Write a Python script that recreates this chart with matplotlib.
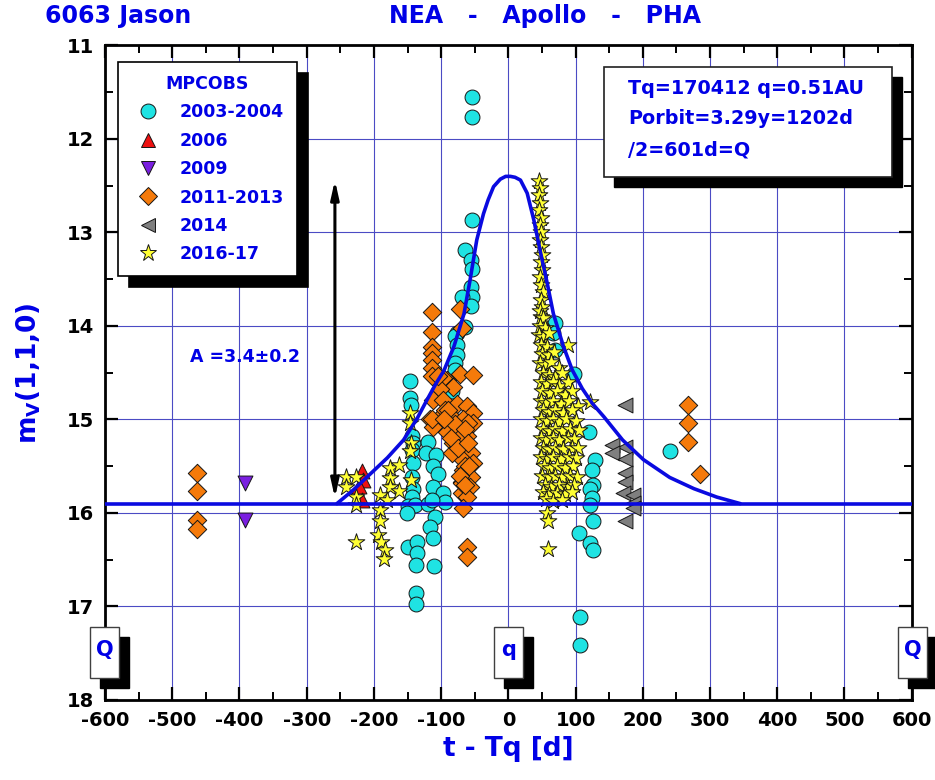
import matplotlib
matplotlib.use('Agg')
import matplotlib.pyplot as plt
from matplotlib.patches import Rectangle
from matplotlib.lines import Line2D
from matplotlib.ticker import MultipleLocator

plt.rcParams['font.family'] = ['DejaVu Sans']
plt.rcParams['font.weight'] = 'bold'
plt.rcParams['axes.unicode_minus'] = False
plt.rcParams['mathtext.fontset'] = 'custom'
plt.rcParams['mathtext.rm'] = 'DejaVu Sans:bold'
plt.rcParams['mathtext.it'] = 'DejaVu Sans:bold'
plt.rcParams['mathtext.bf'] = 'DejaVu Sans:bold'

BLUE = '#0000e6'

# observations: t - Tq [d] and reduced magnitude m_V(1,1,0)
obs_2003_t = [-54, -54, -54, -65, -56, -54, -56, -54, -69, -56, -65, -77, -79, -77, -77, -79, -79, -84,
              -146, -146, -145, -143, -142, -143, -142, -143, -142, -144, -149, -139, -151, -149, -136,
              -136, -138, -137, -137,
              -119, -122, -107, -112, -104, -112, -97, -94, -119, -114, -109, -117, -112, -110,
              69, 67, 69, 98, 120, 129, 124, 126, 121, 124, 121, 126, 105, 121, 126, 106, 106, 240]
obs_2003_m = [11.55, 11.77, 12.87, 13.19, 13.29, 13.39, 13.58, 13.69, 13.69, 13.79, 14.01, 14.08, 14.11,
              14.20, 14.31, 14.40, 14.47, 14.70,
              14.59, 14.77, 14.84, 15.18, 15.25, 15.33, 15.47, 15.61, 15.74, 15.83, 15.93, 15.91, 16.00,
              16.36, 16.31, 16.43, 16.56, 16.86, 16.97,
              15.24, 15.36, 15.38, 15.50, 15.58, 15.72, 15.79, 15.88, 15.90, 15.86, 16.04, 16.15, 16.27, 16.57,
              13.97, 14.08, 14.26, 14.51, 15.13, 15.43, 15.54, 15.70, 15.74, 15.84, 15.91, 16.09, 16.21,
              16.32, 16.40, 17.11, 17.41, 15.34]

obs_2006_t = [-218, -216, -222, -218]
obs_2006_m = [15.55, 15.65, 15.71, 15.86]

obs_2009_t = [-392, -392]
obs_2009_m = [15.68, 16.08]

obs_2011_t = [-463, -463, -463, -463, 267, 267, 267, 285,
              -114, -114, -114, -113, -114, -114, -114, -72, -69, -72, -52, -92, -82, -97, -102,
              -112, -97, -77, -62, -52, -117, -102, -84, -67, -52, -112, -92, -77, -62, -82, -67,
              -55, -72, -52, -67, -55, -69, -57, -69, -62, -67, -62, -62,
              -114, -94, -60, -75, -84, -65, -69, -104, -90, -80, -95, -85, -75, -65, -60, -58, -72, -64]
obs_2011_m = [15.57, 15.77, 16.07, 16.17, 14.84, 15.04, 15.24, 15.58,
              13.85, 14.06, 14.22, 14.29, 14.36, 14.45, 14.54, 13.82, 14.02, 14.51, 14.52, 14.58, 14.65,
              14.56, 14.67, 14.79, 14.79, 14.83, 14.86, 14.93, 15.00, 14.97, 14.97, 15.00, 15.04, 15.08,
              15.13, 15.15, 15.18, 15.25, 15.29, 15.36, 15.40, 15.47, 15.54, 15.61, 15.67, 15.72, 15.79,
              15.83, 15.95, 16.36, 16.47,
              15.00, 14.90, 15.04, 15.18, 15.36, 15.50, 15.68, 14.54, 14.90, 15.05, 15.00, 15.20, 15.30,
              15.10, 15.25, 15.50, 15.60, 15.70]

obs_2014_t = [173, 154, 174, 154, 174, 174, 174, 171, 186, 186, 186, 173]
obs_2014_m = [14.84, 15.27, 15.29, 15.36, 15.42, 15.57, 15.67, 15.79, 15.81, 15.89, 15.95, 16.09]

obs_2016_t = [-241, -227, -241, -226, -226, -227, -176, -163, -176, -176, -163, -191, -181, -191, -191,
              -194, -189, -184, -185, -146, -146, -145, -146, -145,
              46, 47, 46, 47, 46, 48, 47, 48, 47, 49, 50, 48, 50, 47, 49, 51, 48, 50, 47,
              48, 52, 47, 55, 46, 52, 60, 48, 58, 89, 50, 60, 68, 47, 55, 64, 75, 52, 60, 70, 80,
              48, 57, 66, 76, 88, 50, 62, 72, 84, 95,
              48, 56, 66, 78, 90, 121, 104,
              52, 60, 70, 82, 94,
              49, 58, 66, 75, 86, 100,
              51, 62, 70, 80, 92, 105,
              48, 56, 66, 76, 88, 98,
              52, 60, 70, 82, 94, 104,
              49, 58, 67, 78, 90, 100,
              53, 62, 72, 84, 96,
              50, 60, 70, 80, 92, 102,
              54, 64, 76, 88, 98,
              51, 60, 72, 84, 95,
              56, 66, 80,
              57, 59, 59]
obs_2016_m = [15.61, 15.61, 15.72, 15.83, 15.91, 16.31, 15.52, 15.49, 15.63, 15.72, 15.77, 15.81, 15.86,
              15.97, 16.09, 16.24, 16.31, 16.40, 16.49, 14.93, 15.04, 15.25, 15.34, 15.65,
              12.45, 12.52, 12.60, 12.68, 12.76, 12.84, 12.92, 13.00, 13.08, 13.16, 13.24, 13.32, 13.40,
              13.48, 13.56, 13.64, 13.72, 13.80, 13.84,
              13.90, 13.92, 14.00, 14.02, 14.10, 14.12, 14.08, 14.20, 14.22, 14.20, 14.30, 14.31, 14.28,
              14.40, 14.42, 14.38, 14.45, 14.50, 14.52, 14.55, 14.50,
              14.60, 14.62, 14.60, 14.64, 14.60, 14.70, 14.72, 14.70, 14.74, 14.70,
              14.80, 14.82, 14.80, 14.83, 14.80, 14.81, 14.86,
              14.90, 14.92, 14.90, 14.93, 14.90,
              15.00, 15.02, 15.00, 15.03, 15.00, 15.02,
              15.10, 15.12, 15.10, 15.12, 15.10, 15.11,
              15.20, 15.22, 15.20, 15.22, 15.20, 15.21,
              15.30, 15.32, 15.30, 15.32, 15.30, 15.31,
              15.40, 15.42, 15.40, 15.42, 15.40, 15.41,
              15.50, 15.52, 15.50, 15.52, 15.50,
              15.60, 15.62, 15.60, 15.62, 15.60, 15.61,
              15.70, 15.72, 15.70, 15.72, 15.70,
              15.78, 15.80, 15.79, 15.80, 15.78,
              15.85, 15.87, 15.86,
              16.00, 16.09, 16.38]

# secular light curve envelope
curve_t = [-255, -230, -205, -180, -156, -135, -121, -108, -96, -81, -66, -57, -47, -37, -30, -22, -12, -4,
           3, 10, 18, 28, 38, 48, 58, 67, 82, 95, 110, 125, 142, 170, 201, 240, 276, 310, 345]
curve_m = [15.90, 15.75, 15.58, 15.41, 15.22, 14.98, 14.79, 14.62, 14.48, 14.22, 13.87, 13.51, 13.08, 12.80,
           12.65, 12.51, 12.43, 12.40, 12.40, 12.41, 12.44, 12.58, 12.87, 13.22, 13.55, 13.87, 14.22, 14.47,
           14.67, 14.83, 14.97, 15.22, 15.43, 15.62, 15.74, 15.83, 15.90]

base_mag = 15.9
amp_t = -258
amp_top = 12.44
amp_bottom = 15.84

series = [
    ('2003-2004', obs_2003_t, obs_2003_m, 'o', '#1fe3e3', 115),
    ('2006', obs_2006_t, obs_2006_m, '^', '#ee1111', 115),
    ('2009', obs_2009_t, obs_2009_m, 'v', '#7a1fe0', 115),
    ('2011-2013', obs_2011_t, obs_2011_m, 'D', '#f57a0a', 88),
    ('2014', obs_2014_t, obs_2014_m, '<', '#7f7f7f', 115),
    ('2016-17', obs_2016_t, obs_2016_m, '*', '#ffff33', 160),
]

q_marks_t = [-601, 0, 601]
q_marks_label = ['Q', 'q', 'Q']

info_lines = ['Tq=170412 q=0.51AU', 'Porbit=3.29y=1202d', '/2=601d=Q']

fig = plt.figure(figsize=(9.35, 7.8), dpi=100)
ax = fig.add_axes([0.1123, 0.1026, 0.8628, 0.8391])

handles = []
for i, (label, tt, mm, mk, col, sz) in enumerate(series):
    ax.scatter(tt, mm, marker=mk, s=sz, facecolor=col, edgecolor='#151515',
               linewidths=0.7, zorder=3 + i * 0.1)
    handles.append(Line2D([], [], linestyle='none', marker=mk, markersize=(sz ** 0.5),
                          markerfacecolor=col, markeredgecolor='#151515', markeredgewidth=0.7))

ax.plot(curve_t, curve_m, color='#0a0ae0', lw=2.6, zorder=5, solid_capstyle='round')
ax.axhline(base_mag, color='#0a0ae0', lw=2.6, zorder=5)

ax.annotate('', xy=(amp_t, amp_top), xytext=(amp_t, amp_bottom),
            arrowprops=dict(arrowstyle='<|-|>,head_length=0.9,head_width=0.2', color='black',
                            lw=2.2, shrinkA=0, shrinkB=0, mutation_scale=12), zorder=6)
ax.text(-474, 14.33, 'A =3.4\u00b10.2', color=BLUE, fontsize=12.5, fontweight='bold',
        ha='left', va='center', zorder=6)

ax.set_xlim(-600, 600)
ax.set_ylim(18, 11)
ax.xaxis.set_major_locator(MultipleLocator(100))
ax.xaxis.set_minor_locator(MultipleLocator(50))
ax.yaxis.set_major_locator(MultipleLocator(1))
ax.yaxis.set_minor_locator(MultipleLocator(0.5))
ax.grid(True, which='major', color='#4b4bc4', lw=0.8, zorder=0)
ax.set_axisbelow(True)
ax.tick_params(which='both', direction='in', top=True, right=True, color='black')
ax.tick_params(which='major', length=9.5, width=1.6, labelsize=14, pad=8)
ax.tick_params(which='minor', length=5.5, width=1.4)
for lab in ax.get_xticklabels() + ax.get_yticklabels():
    lab.set_fontweight('bold')
for sp in ax.spines.values():
    sp.set_linewidth(2)

ax.set_xlabel('t - Tq [d]', color=BLUE, fontsize=19, fontweight='bold', labelpad=4)
ax.set_ylabel(r'm$_{\rm V}$(1,1,0)', color=BLUE, fontsize=19, fontweight='bold', labelpad=17)

fig.text(0.048, 0.979, '6063 Jason', color=BLUE, fontsize=17, fontweight='bold', ha='left', va='center')
fig.text(0.583, 0.979, 'NEA   -   Apollo   -   PHA', color=BLUE, fontsize=17, fontweight='bold',
         ha='center', va='center')

leg = ax.legend(handles, [s[0] for s in series], loc='upper left', bbox_to_anchor=(0.016, 0.975),
                borderaxespad=0, title='MPCOBS', fontsize=12.5, frameon=True, fancybox=False,
                framealpha=1, edgecolor='black', borderpad=0.75, handlelength=1.95,
                handletextpad=0.87, labelspacing=0.6,
                shadow={'color': 'black', 'alpha': 1, 'ox': 8, 'oy': -8})
leg.get_frame().set_linewidth(1.2)
leg.set_zorder(10)
leg.get_title().set_color(BLUE)
leg.get_title().set_fontweight('bold')
leg.get_title().set_fontsize(12.5)
for txt in leg.get_texts():
    txt.set_color(BLUE)
    txt.set_fontweight('bold')

# parameter box with drop shadow
ax.add_patch(Rectangle((0.631, 0.784), 0.357, 0.168, transform=ax.transAxes, facecolor='black',
                       edgecolor='black', zorder=9, clip_on=False))
ax.add_patch(Rectangle((0.619, 0.799), 0.357, 0.168, transform=ax.transAxes, facecolor='white',
                       edgecolor='#202020', lw=1.2, zorder=9.5, clip_on=False))
for k, line in enumerate(info_lines):
    ax.text(0.648, 0.935 - k * 0.047, line, transform=ax.transAxes, color=BLUE, fontsize=13.8,
            fontweight='bold', ha='left', va='center', zorder=10)

# perihelion / aphelion markers
for qt, ql in zip(q_marks_t, q_marks_label):
    ax.add_patch(Rectangle((qt - 22 + 15, 17.33), 44, 0.54, facecolor='black', edgecolor='black',
                           zorder=11, clip_on=False))
    ax.add_patch(Rectangle((qt - 22, 17.22), 44, 0.54, facecolor='white', edgecolor='#404040',
                           lw=1, zorder=11.5, clip_on=False))
    ax.text(qt, 17.47, ql, color=BLUE, fontsize=15, fontweight='bold', ha='center', va='center',
            zorder=12, clip_on=False)

fig.savefig('out.png', dpi=100, facecolor='white')
